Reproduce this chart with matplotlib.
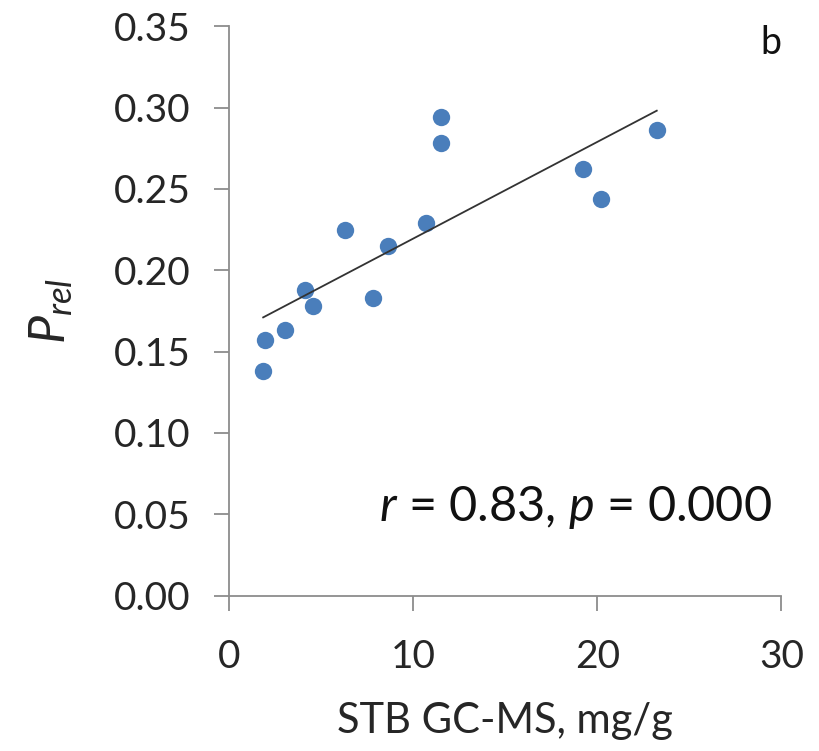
import numpy as np
import matplotlib
matplotlib.use('Agg')
from matplotlib import pyplot as plt

plt.rcParams['font.family'] = ['Lato', 'DejaVu Sans']
plt.rcParams['mathtext.fontset'] = 'custom'
plt.rcParams['mathtext.it'] = 'Lato:italic'
plt.rcParams['mathtext.rm'] = 'Lato'

# STB GC-MS (mg/g) vs P_rel
stb = [1.84, 1.94, 3.01, 4.09, 4.54, 6.30, 7.80, 8.65, 10.68, 11.48, 11.48, 19.22, 20.18, 23.23]
prel = [0.138, 0.157, 0.163, 0.188, 0.178, 0.225, 0.183, 0.215, 0.229, 0.294, 0.278, 0.262, 0.244, 0.286]
xticks = [0, 10, 20, 30]
yticks = [0.00, 0.05, 0.10, 0.15, 0.20, 0.25, 0.30, 0.35]

fig = plt.figure(figsize=(8.19, 7.51), dpi=100)
ax = fig.add_axes([0.280, 0.207, 0.674, 0.758])

ax.plot(stb, prel, 'o', color='#4a7ebb', markersize=12.5, markeredgewidth=0)

# linear trendline (least squares) across data range
k, b = np.polyfit(stb, prel, 1)
xs = np.array([min(stb), max(stb)])
ax.plot(xs, k * xs + b, color='#333333', lw=1.3)

ax.set_xlim(0, 30)
ax.set_ylim(0, 0.35)
ax.set_xticks(xticks)
ax.set_yticks(yticks)
ax.set_yticklabels(['%.2f' % v for v in yticks])
ax.spines['top'].set_visible(False)
ax.spines['right'].set_visible(False)
for s in ['left', 'bottom']:
    ax.spines[s].set_color('#8c8c8c')
    ax.spines[s].set_linewidth(1.3)
ax.tick_params(direction='out', length=11, width=1.3, color='#8c8c8c',
               labelsize=28, labelcolor='#262626')
ax.tick_params(axis='y', pad=17)
ax.tick_params(axis='x', pad=20)

ax.set_xlabel('STB GC-MS, mg/g', fontsize=30, labelpad=20, color='#262626')
ax.set_ylabel(r'$P_{rel}$', fontsize=36, labelpad=28, color='#262626')

ax.text(0.983, 0.155, r'$r$ = 0.83, $p$ = 0.000', transform=ax.transAxes,
        ha='right', va='center', fontsize=35, color='#111111')
ax.text(1.0, 0.97, 'b', transform=ax.transAxes, ha='right', va='center',
        fontsize=27, color='#111111')

fig.savefig('out.png', dpi=100)
